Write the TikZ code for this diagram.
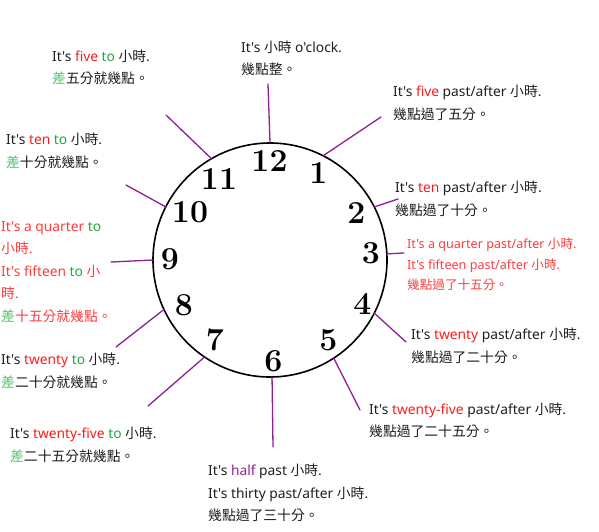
\documentclass[tikz,border=0pt]{standalone}
\usepackage{fontspec}
\setmainfont{Noto Sans}[Ligatures=TeXOff]
\newfontfamily\hanzi{Noto Sans CJK TC}[Ligatures=TeXOff]
\newfontfamily\numfont{Latin Modern Roman}
\usepackage{xcolor}
\usetikzlibrary{calc}
\definecolor{ink}{HTML}{1E1E1E}
\definecolor{hot}{HTML}{FF1A1A}
\definecolor{soft}{HTML}{FF3B3B}
\definecolor{go}{HTML}{1FAA3C}
\definecolor{golite}{HTML}{52BE64}
\definecolor{plum}{HTML}{8E1F96}
\tikzset{
  rim/.style={draw=black, line width=1.6pt},
  tick/.style={draw=plum, line width=1.3pt, line cap=round},
  num/.style={font=\numfont\bfseries\fontsize{32}{32}\selectfont, inner sep=0pt},
  say/.style={text=ink, anchor=west, align=left, inner sep=0pt,
    font=\fontsize{13.8}{22.5}\selectfont},
  saym/.style={say, font=\fontsize{12.6}{20.5}\selectfont},
}
\newcommand{\zh}[1]{{\hanzi #1}}
\newcommand{\rd}[1]{\textcolor{hot}{#1}}
\newcommand{\gr}[1]{\textcolor{go}{#1}}
\newcommand{\gl}[1]{\textcolor{golite}{#1}}

\begin{document}
\begin{tikzpicture}[x=1pt, y=-1pt]
  \useasboundingbox (0,0) rectangle (599,531);
  \def\r{117}
  \coordinate (C) at (270,260);
  \draw[rim] (C) circle (\r);

  % numerals
  \foreach \h/\x/\y in {12/269.5/160.5, 1/318.5/173, 2/356.5/212.5, 3/371/253,
      4/362.5/303.5, 5/328.5/340.5, 6/273.5/361, 7/215/339.5, 8/184/305.5,
      9/170/259, 10/190/212.5, 11/219/178.5}
    \node[num] (n\h) at (\x,\y) {\h};

  % ticks on the rim
  \coordinate (i12) at ($(C)+(90:\r pt)$);
  \coordinate (i1)  at ($(C)+(63:\r pt)$);
  \coordinate (i2)  at ($(C)+(27:\r pt)$);
  \coordinate (i3)  at ($(C)+(3:\r pt)$);
  \coordinate (i4)  at ($(C)+(-27:\r pt)$);
  \coordinate (i5)  at ($(C)+(-57:\r pt)$);
  \coordinate (i6)  at ($(C)+(-89:\r pt)$);
  \coordinate (i7)  at ($(C)+(-124:\r pt)$);
  \coordinate (i8)  at ($(C)+(-155:\r pt)$);
  \coordinate (i9)  at ($(C)+(180:\r pt)$);
  \coordinate (i10) at ($(C)+(153:\r pt)$);
  \coordinate (i11) at ($(C)+(120:\r pt)$);

  \coordinate (o12) at (268,84);
  \coordinate (o1)  at (381,117);
  \coordinate (o2)  at (398,199);
  \coordinate (o3)  at (404,253);
  \coordinate (o4)  at (406,342);
  \coordinate (o5)  at (360,410);
  \coordinate (o6)  at (273,447);
  \coordinate (o7)  at (148,406);
  \coordinate (o8)  at (116,347);
  \coordinate (o9)  at (111,262);
  \coordinate (o10) at (126,185);
  \coordinate (o11) at (166,115);

  \foreach \h in {12,1,2,3,4,5,6,7,8,9,10,11}
    \draw[tick] (i\h) -- (o\h);

  % what to say
  \node[say] (t12) at (241,58.5) {It's \zh{小時} o'clock.\\\zh{幾點整。}};
  \node[say] (t1) at (393,103) {It's \rd{five} past/after \zh{小時}.\\\zh{幾點過了五分。}};
  \node[say] (t2) at (395,199) {It's \rd{ten} past/after \zh{小時}.\\\zh{幾點過了十分。}};
  \node[saym, text=soft] (t3) at (407,264.5)
    {It's a quarter past/after \zh{小時}.\\It's fifteen past/after \zh{小時}.\\\zh{幾點過了十五分。}};
  \node[say] (t4) at (411,346) {It's \rd{twenty} past/after \zh{小時}.\\\zh{幾點過了二十分。}};
  \node[say] (t5) at (369,420.5) {It's \rd{twenty-five} past/after \zh{小時}.\\\zh{幾點過了二十五分。}};
  \node[say] (t6) at (208,493)
    {It's \textcolor{plum}{half} past \zh{小時}.\\It's thirty past/after \zh{小時}.\\\zh{幾點過了三十分。}};
  \node[say] (t7) at (10,445) {It's \rd{twenty-five} \gr{to} \zh{小時}.\\\zh{\gl{差}二十五分就幾點。}};
  \node[say] (t8) at (1,371) {It's \rd{twenty} \gr{to} \zh{小時}.\\\zh{\gl{差}二十分就幾點。}};
  \node[say, text=soft] (t9) at (1,272)
    {It's a quarter \gr{to}\\\zh{小時}.\\It's fifteen \gr{to} \zh{小}\\\zh{時}.\\\zh{\gl{差}十五分就幾點。}};
  \node[say] (t10) at (6,151) {It's \rd{ten} \gr{to} \zh{小時}.\\\zh{\gl{差}十分就幾點。}};
  \node[say] (t11) at (52,67.5) {It's \rd{five} \gr{to} \zh{小時}.\\\zh{\gl{差}五分就幾點。}};
\end{tikzpicture}
\end{document}
